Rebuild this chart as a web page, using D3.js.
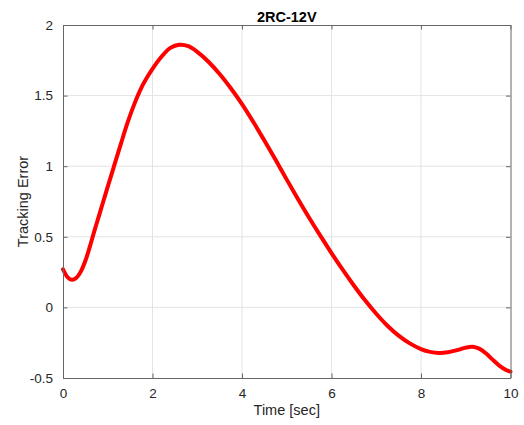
<!DOCTYPE html>
<html>
<head>
<meta charset="utf-8">
<script src="https://cdn.jsdelivr.net/npm/d3@7"></script>
<style>
  html, body { margin: 0; padding: 0; background: #fff; }
  svg { display: block; font-family: "Liberation Sans", Arial, sans-serif; }
</style>
</head>
<body>
<svg id="chart" width="524" height="425"></svg>
<script>
// Tracking error over time for the 2RC model at 12 V
const timeSec = [0, 0.1, 0.2, 0.3, 0.4, 0.5, 0.6, 0.7, 0.8, 0.9, 1.0, 1.14, 1.3, 1.45, 1.6,
  1.75, 1.9, 2.0, 2.2, 2.4, 2.6, 2.8, 3.0, 3.25, 3.5, 3.75, 4.0, 4.25, 4.5, 4.75, 5.0, 5.25,
  5.5, 5.75, 6.0, 6.25, 6.5, 6.75, 7.0, 7.25, 7.5, 7.75, 8.0, 8.2, 8.4, 8.6, 8.8, 9.0, 9.15,
  9.3, 9.45, 9.6, 9.75, 9.9, 10.0];
const trackingError = [0.27, 0.215, 0.195, 0.21, 0.255, 0.33, 0.43, 0.54, 0.645, 0.75, 0.855,
  1.0, 1.165, 1.315, 1.445, 1.555, 1.64, 1.69, 1.775, 1.838, 1.86, 1.85, 1.81, 1.74, 1.653,
  1.552, 1.44, 1.315, 1.182, 1.045, 0.905, 0.768, 0.635, 0.508, 0.385, 0.267, 0.155, 0.05,
  -0.045, -0.13, -0.2, -0.255, -0.295, -0.315, -0.323, -0.318, -0.303, -0.285, -0.279,
  -0.292, -0.325, -0.37, -0.412, -0.443, -0.455];
const xTicks = [0, 2, 4, 6, 8, 10];
const yTicks = [-0.5, 0, 0.5, 1, 1.5, 2];
const yTickLabels = ["-0.5", "0", "0.5", "1", "1.5", "2"];

const svg = d3.select("#chart");
const m = { left: 63, right: 510.5, top: 25, bottom: 378 };

const x = d3.scaleLinear().domain([0, 10]).range([m.left, m.right]);
const y = d3.scaleLinear().domain([-0.5, 2]).range([m.bottom, m.top]);

const axisColor = "#666666";
const textColor = "#262626";
const tickLen = 4.5;

// grid
const grid = svg.append("g");
grid.selectAll(".gx").data(xTicks.slice(1, -1)).join("line")
  .attr("x1", d => x(d)).attr("x2", d => x(d))
  .attr("y1", m.top).attr("y2", m.bottom)
  .attr("stroke", "#e3e3e3").attr("stroke-width", 1);
grid.selectAll(".gy").data(yTicks.slice(1, -1)).join("line")
  .attr("x1", m.left).attr("x2", m.right)
  .attr("y1", d => y(d)).attr("y2", d => y(d))
  .attr("stroke", "#e3e3e3").attr("stroke-width", 1);

// curve
const line = d3.line()
  .x((d, i) => x(timeSec[i]))
  .y(d => y(d))
  .curve(d3.curveCatmullRom.alpha(0.5));
svg.append("path")
  .datum(trackingError)
  .attr("d", line)
  .attr("fill", "none")
  .attr("stroke", "#ff0000")
  .attr("stroke-width", 4)
  .attr("stroke-linejoin", "round")
  .attr("stroke-linecap", "round");

// axes (box with inward ticks on all four sides)
const xAxisB = d3.axisBottom(x).tickValues(xTicks).tickFormat(d3.format("d"))
  .tickSizeInner(-tickLen).tickSizeOuter(0).tickPadding(10);
const xAxisT = d3.axisTop(x).tickValues(xTicks).tickFormat("")
  .tickSizeInner(-tickLen).tickSizeOuter(0);
const yAxisL = d3.axisLeft(y).tickValues(yTicks).tickFormat((d, i) => yTickLabels[i])
  .tickSizeInner(-tickLen).tickSizeOuter(0).tickPadding(10);
const yAxisR = d3.axisRight(y).tickValues(yTicks).tickFormat("")
  .tickSizeInner(-tickLen).tickSizeOuter(0);

function styleAxis(g) {
  g.select(".domain").attr("stroke", axisColor);
  g.selectAll(".tick line").attr("stroke", axisColor);
  g.selectAll(".tick text").attr("fill", textColor)
    .style("font-size", "13.5px").style("font-family", "'Liberation Sans', Arial, sans-serif");
}

svg.append("g").attr("transform", `translate(0,${m.bottom})`).call(xAxisB).call(styleAxis);
svg.append("g").attr("transform", `translate(0,${m.top})`).call(xAxisT).call(styleAxis);
svg.append("g").attr("transform", `translate(${m.left},0)`).call(yAxisL).call(styleAxis);
svg.append("g").attr("transform", `translate(${m.right},0)`).call(yAxisR).call(styleAxis);

// labels
svg.append("text")
  .attr("x", (m.left + m.right) / 2).attr("y", 21.5)
  .attr("text-anchor", "middle")
  .attr("fill", "#000").style("font-weight", "bold").style("font-size", "14.5px")
  .text("2RC-12V");

svg.append("text")
  .attr("x", (m.left + m.right) / 2).attr("y", 415)
  .attr("text-anchor", "middle")
  .attr("fill", textColor).style("font-size", "14.5px")
  .text("Time [sec]");

svg.append("text")
  .attr("transform", `translate(27.5,${(m.top + m.bottom) / 2}) rotate(-90)`)
  .attr("text-anchor", "middle")
  .attr("fill", textColor).style("font-size", "14.5px")
  .text("Tracking Error");
</script>
</body>
</html>
